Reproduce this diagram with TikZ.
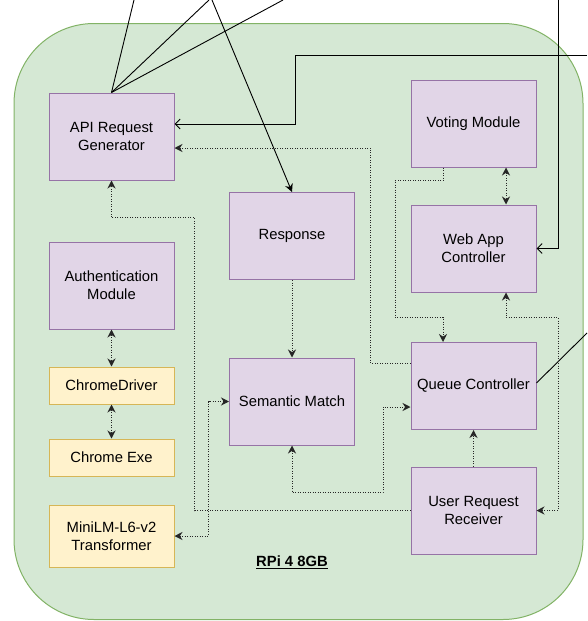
\documentclass[tikz,border=0pt]{standalone}
\usepackage{fontspec}
\setmainfont{Liberation Sans}
\usetikzlibrary{arrows.meta, calc}
\definecolor{rpigreen}{HTML}{D5E8D4}
\definecolor{rpiedge}{HTML}{82B366}
\definecolor{modpurple}{HTML}{E1D5E7}
\definecolor{modedge}{HTML}{9673A6}
\definecolor{extyellow}{HTML}{FFF2CC}
\definecolor{extedge}{HTML}{D6B656}

\begin{document}
\begin{tikzpicture}[
      x=1pt, y=-1pt,
      every node/.style={font=\fontsize{14.8}{18}\selectfont},
      module/.style={draw=modedge, fill=modpurple, line width=1pt,
                     minimum width=125pt, minimum height=87pt, align=center},
      extbox/.style={draw=extedge, fill=extyellow, line width=1pt,
                     minimum width=125pt, minimum height=#1, align=center},
      wire/.style={draw=black, line width=0.9pt},
      dotwire/.style={draw=black!85, line width=1pt, dash pattern=on 1pt off 1.5pt},
      barb/.style={-{Straight Barb[length=5pt,width=10pt]}},
      >={Stealth[length=8pt,width=8pt]},
    ]
    \useasboundingbox (0,0) rectangle (587,621);
    \node[draw=rpiedge, fill=rpigreen, line width=1pt, rounded corners=80pt,
          minimum width=569pt, minimum height=596pt] (rpi) at (298.5,321.5) {};

    \node[module]       (api)  at (111.5,136.5) {API Request\\Generator};
    \node[module]       (auth) at (111.5,285.5) {Authentication\\Module};
    \node[extbox=37pt]  (cdrv) at (111.5,385.5) {ChromeDriver};
    \node[extbox=37pt]  (cexe) at (111.5,457.5) {Chrome Exe};
    \node[extbox=62pt]  (mini) at (111.5,536)   {MiniLM-L6-v2\\Transformer};
    \node[module]       (resp) at (292,236)     {Response};
    \node[module]       (sem)  at (292,401.5)   {Semantic Match};
    \node[module]       (vote) at (473.5,123.5) {Voting Module};
    \node[module]       (web)  at (473.5,248.5) {Web App\\Controller};
    \node[module]       (queue) at (473.5,386)  {Queue Controller};
    \node[module]       (user) at (473.5,510.5) {User Request\\Receiver};
    \node[font=\fontsize{14.8}{18}\selectfont\bfseries] (lbl) at (292,562) {\underline{RPi 4 8GB}};

    % outside links
    \foreach \n/\x in {a/134, b/209, c/283} {
      \coordinate (top\n) at (\x,0);
      \draw[wire] (api.north) -- (top\n);
    }
    \coordinate (topr) at (212,0);
    \coordinate (topw) at (558,0);
    \coordinate (inr)  at (587,55);
    \coordinate (outq) at (587,333);
    \draw[wire, ->] (topr) -- (resp.north);
    \draw[wire, barb] (inr) -- ++(-292,0) |- ([yshift=12.5pt]api.east);
    \draw[wire, barb] (topw) |- (web.east);
    \draw[wire] ([yshift=3pt]queue.east) -- (outq);

    % internal links
    \draw[dotwire, ->] ([yshift=23pt]queue.west) -- ++(-40,0) |- ([yshift=-11.5pt]api.east);
    \draw[dotwire, ->] ([xshift=-30.5pt]vote.south) -- ++(0,13) -- ++(-48,0)
      -- ++(0,137) -- ++(48,0) -- ([xshift=-30.5pt]queue.north);
    \draw[dotwire, <->] ([xshift=32.5pt]vote.south) -- ([xshift=32.5pt]web.north);
    \draw[dotwire, <->] ([xshift=32.5pt]web.south) -- ++(0,25) -- ++(52,0) |- (user.east);
    \draw[dotwire, ->] (user.north) -- (queue.south);
    \draw[dotwire, ->] (user.west) -- ++(-216,0) -- ++(0,-293) -| (api.south);
    \draw[dotwire, ->] (resp.south) -- (sem.north);
    \draw[dotwire, <->] (mini.east) -- ++(34,0) |- (sem.west);
    \draw[dotwire, <->] (sem.south) -- ++(0,47) -- ++(91,0) |- ([yshift=-21pt]queue.west);
    \draw[dotwire, <->] (auth.south) -- (cdrv.north);
    \draw[dotwire, <->] (cdrv.south) -- (cexe.north);
  \end{tikzpicture}
\end{document}
